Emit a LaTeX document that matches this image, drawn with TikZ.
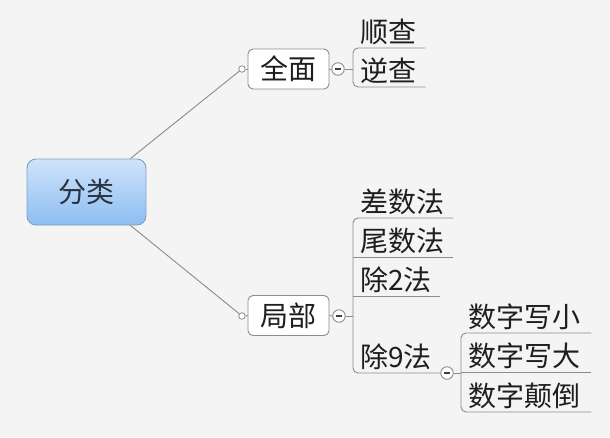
\documentclass[tikz,border=0pt]{standalone}
\usepackage{fontspec}
\setmainfont{Noto Sans CJK SC}
\usetikzlibrary{calc}
\definecolor{bgc}{HTML}{F4F4F4}
\definecolor{linec}{HTML}{8C8C8C}
\definecolor{rootTop}{HTML}{CFE4FB}
\definecolor{rootBot}{HTML}{8DBDF0}
\definecolor{rootEdge}{HTML}{7E9FC4}
\definecolor{txt}{HTML}{1E1E1E}
\definecolor{roottxt}{HTML}{2A3340}
\begin{document}
\begin{tikzpicture}[x=1pt,y=-1pt,
  conn/.style={draw=linec, line width=0.9pt},
  rootbox/.style={draw=rootEdge, line width=0.9pt, rounded corners=9pt,
    top color=rootTop, bottom color=rootBot, minimum width=119pt,
    minimum height=66pt, inner sep=0pt, font=\fontsize{28}{28}\selectfont, text=roottxt},
  topic/.style={draw=linec, line width=0.9pt, fill=white, rounded corners=5pt,
    minimum width=81pt, minimum height=40pt, inner sep=0pt,
    font=\fontsize{28}{28}\selectfont, text=txt},
  dot/.style={circle, draw=linec, line width=0.8pt, fill=white, minimum size=6.5pt, inner sep=0pt},
  minus/.style={circle, draw=linec, line width=0.9pt, fill=white, minimum size=12.5pt, inner sep=0pt,
    path picture={\draw[line width=1.1pt, black!75]
      ($(path picture bounding box.center)+(-3,0)$) -- ($(path picture bounding box.center)+(3,0)$);}},
  item/.style={anchor=south west, inner xsep=7pt, inner ysep=0pt, minimum height=32pt,
    text width=#1, align=left, font=\fontsize{28}{28}\selectfont, text=txt}
]
\fill[bgc] (0,0) rectangle (610,437);
\useasboundingbox (0,0) rectangle (610,437);

% root and topics
\node[rootbox] (root) at (86.5,192) {分类};
\node[topic] (qm) at (288.5,69) {全面};
\node[topic] (jb) at (288.5,315.5) {局部};
\node[dot] (qdot) at (242,69) {};
\node[dot] (jdot) at (242,316) {};
\node[minus] (qmm) at (338,69) {};
\node[minus] (jbm) at (339,316) {};

\coordinate (rA) at ($(root.north east)+(-16,0)$);
\coordinate (rB) at ($(root.south east)+(-16,0)$);
\draw[conn] (rA) -- (qdot);
\draw[conn] (rB) -- (jdot);
\draw[conn] (qdot) -- (qm.west);
\draw[conn] (jdot) -- (jb.west);
\draw[conn] (qm.east) -- (qmm.west);
\draw[conn] (jb.east) -- (jbm.west);

% 全面 group
\node[item=58pt] (sc) at (353,48) {顺查};
\node[item=58pt] (nc) at (353,87) {逆查};
\draw[conn, rounded corners=5pt] (sc.south east) -- (sc.south west) -- (nc.south west) -- (nc.south east);
\draw[conn] (qmm.east) -- (qmm.east -| sc.south west);

% 局部 group
\node[item=86pt] (cs) at (353,218) {差数法};
\node[item=86pt] (ws) at (353,257) {尾数法};
\node[item=73pt] (c2) at (353,296) {除2法};
\node[item=73pt] (c9) at (353,373) {除9法};
\node[minus] (m9) at (447,373) {};
\draw[conn, rounded corners=5pt] (cs.south east) -- (cs.south west) -- (c9.south west) -- (m9.west);
\draw[conn] (ws.south west) -- (ws.south east);
\draw[conn] (c2.south west) -- (c2.south east);
\draw[conn] (jbm.east) -- (jbm.east -| cs.south west);

% 除9法 group
\node[item=116pt] (s1) at (461,333) {数字写小};
\node[item=116pt] (s2) at (461,372) {数字写大};
\node[item=116pt] (s3) at (461,412) {数字颠倒};
\draw[conn, rounded corners=5pt] (s1.south east) -- (s1.south west) -- (s3.south west) -- (s3.south east);
\draw[conn] (s2.south west) -- (s2.south east);
\draw[conn] (m9.east) -- (m9.east -| s1.south west);
\end{tikzpicture}
\end{document}
